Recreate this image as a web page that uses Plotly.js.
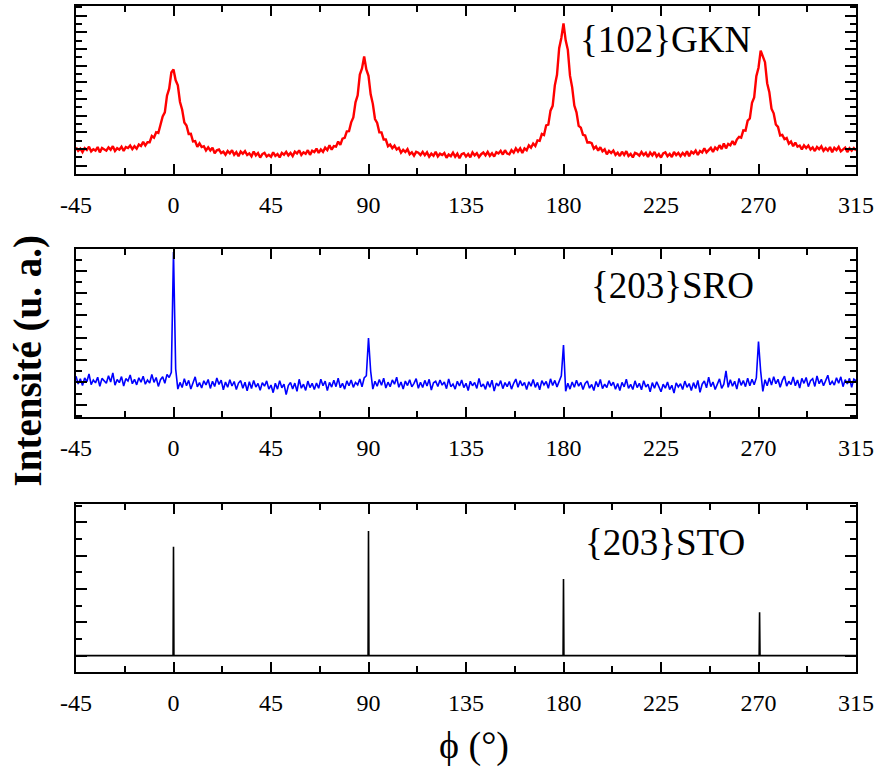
<!DOCTYPE html>
<html>
<head>
<meta charset="utf-8">
<script src="https://cdn.plot.ly/plotly-3.0.1.min.js"></script>
<style>html,body{margin:0;padding:0;background:#fff;}#chart{width:879px;height:773px;}</style>
</head>
<body>
<div id="chart"></div>
<script>
// phi scan: first angle and step (degrees)
const phiStart = -45;
const phiStep = 1;
const phiTicks = [-45, 0, 45, 90, 135, 180, 225, 270, 315];
const phiTickText = ['-45', '0', '45', '90', '135', '180', '225', '270', '315'];

// {102} GKN intensity, phi = -45 .. 315 step 1
const gkn = [
109,89,102,81,105,94,114,86,99,91,
112,80,106,99,90,110,96,117,88,105,
96,114,89,112,106,121,100,117,102,127,
118,143,121,141,141,178,168,201,196,246,
295,320,420,462,559,577,512,482,382,336,
259,241,191,192,146,148,113,134,112,117,
92,110,91,108,74,92,97,76,84,66,
88,74,93,65,81,57,85,72,87,64,
74,56,85,62,76,49,70,77,55,65,
53,80,59,70,50,77,66,83,62,77,
58,84,73,92,64,80,71,93,65,90,
82,103,77,97,83,108,94,122,96,117,
114,145,125,162,167,206,207,260,289,380,
422,547,584,656,577,539,428,371,280,257,
200,200,157,157,117,127,105,120,97,107,
78,95,82,99,69,80,60,83,78,64,
83,63,80,54,72,59,84,55,72,64,
76,48,67,57,78,54,72,45,69,75,
55,70,51,80,62,75,52,69,79,62,
83,59,75,55,81,73,89,67,93,73,
68,93,78,104,85,104,77,104,93,122,
108,133,118,152,149,190,184,242,246,330,
359,482,545,705,766,854,752,695,540,470,
361,320,239,228,185,181,140,141,135,102,
115,90,111,86,98,68,89,76,91,65,
78,58,84,64,87,58,71,50,77,71,
60,82,64,77,52,79,62,82,55,70,
49,74,80,57,71,52,82,63,77,57,
76,62,86,57,84,73,91,64,88,79,
105,80,96,107,83,109,97,123,99,133,
104,130,122,148,125,157,173,168,212,210,
270,283,377,410,537,588,690,652,621,495,
441,342,314,247,233,181,185,159,166,132,
145,117,139,114,121,98,122,106,121,97,
110,88,112,99,116,89,105,91,112,81,
107,94,113,86,100,108,82,104,90,106,
91
];

// {203} SRO intensity, phi = -45 .. 315 step 1
const sro = [
128,93,116,86,120,103,138,90,111,98,
123,83,118,108,96,130,102,143,88,113,
99,126,84,117,106,133,94,114,89,121,
101,128,92,111,97,136,100,122,82,112,
125,96,136,122,145,685,160,70,100,77,
117,85,109,70,103,125,80,99,75,107,
89,113,73,105,82,120,91,110,67,102,
78,112,84,104,68,97,108,74,101,62,
103,73,109,79,95,65,99,83,107,70,
88,54,96,70,108,76,92,45,86,100,
70,97,60,114,74,92,64,106,77,96,
68,97,74,114,85,106,63,100,79,110,
81,119,76,96,70,107,85,111,78,100,
89,115,80,120,130,299,150,70,105,83,
113,87,119,75,101,81,111,92,123,78,
102,70,106,86,112,80,96,117,74,101,
77,109,84,114,66,98,105,82,111,88,
102,72,116,81,93,70,105,84,111,77,
96,64,105,85,100,73,118,80,93,69,
104,78,110,61,97,84,108,72,99,81,
104,70,96,115,78,108,85,100,68,103,
83,113,78,100,67,108,89,104,74,116,
86,109,80,110,130,268,60,96,70,102,
78,110,83,100,68,95,106,74,91,64,
104,80,113,72,92,77,108,85,101,69,
95,64,100,80,114,73,91,68,107,77,
96,67,108,79,92,58,99,74,103,81,
58,92,74,102,68,87,52,98,80,94,
68,106,78,95,64,99,73,109,56,92,
106,76,123,81,102,68,97,116,73,92,
152,78,112,83,105,70,118,87,108,81,
119,85,114,90,120,283,150,60,112,85,
120,88,126,94,114,78,109,128,83,105,
90,124,85,111,75,118,96,122,81,108,
117,82,129,94,114,85,108,132,89,105,
88,121,96,125,81,112,93,118,78,115,
107
];

// {203} STO substrate: sharp reflections on a flat zero background
const stoPhi = [-45, -0.2, 0, 0.2, 89.8, 90, 90.2, 179.8, 180, 180.2, 270.3, 270.5, 270.7, 315];
const sto    = [0,   0,   327, 0,   0,   374, 0,   0,    230, 0,    0,     130,   0,     0];

const labels = ['{102}GKN', '{203}SRO', '{203}STO'];
const yTitle = 'Intensité (u. a.)';
const xTitle = 'ϕ (°)';

const FONT = 'Liberation Serif';

const traces = [
  {x0: phiStart, dx: phiStep, y: gkn, type: 'scatter', mode: 'lines', xaxis: 'x', yaxis: 'y',
   line: {color: '#ff0000', width: 2.4}},
  {x0: phiStart, dx: phiStep, y: sro, type: 'scatter', mode: 'lines', xaxis: 'x2', yaxis: 'y2',
   line: {color: '#0000ff', width: 1.6}},
  {x: stoPhi, y: sto, type: 'scatter', mode: 'lines', xaxis: 'x3', yaxis: 'y3',
   line: {color: '#000000', width: 1.6}}
];

function xax(anchor) {
  return {
    anchor: anchor, range: [-45, 315], tickmode: 'array', tickvals: phiTicks, ticktext: phiTickText,
    ticks: 'inside', ticklen: 10, tickwidth: 2, tickcolor: '#000',
    showline: true, linecolor: '#000', linewidth: 2, mirror: 'ticks',
    showgrid: false, zeroline: false, fixedrange: true,
    tickfont: {family: FONT, size: 24, color: '#000'}, ticklabelstandoff: 8,
    minor: {dtick: 22.5, tick0: -45, ticks: 'inside', ticklen: 6, tickwidth: 2, tickcolor: '#000', showgrid: false}
  };
}
function yax(anchor, domain, range) {
  return {
    anchor: anchor, domain: domain, range: range, tick0: 0, dtick: 100,
    ticks: 'inside', ticklen: 11, tickwidth: 2, tickcolor: '#000',
    showline: true, linecolor: '#000', linewidth: 2, mirror: 'ticks',
    showgrid: false, zeroline: false, showticklabels: false, fixedrange: true,
    minor: {dtick: 50, tick0: 0, ticks: 'inside', ticklen: 6, tickwidth: 2, tickcolor: '#000', showgrid: false}
  };
}

const layout = {
  width: 879, height: 773,
  margin: {l: 76, r: 23, t: 6, b: 101},
  paper_bgcolor: '#fff', plot_bgcolor: '#fff',
  showlegend: false,
  font: {family: FONT, color: '#000'},
  xaxis: xax('y'),
  yaxis: yax('x', [0.7477, 1], [-50, 958]),
  xaxis2: xax('y2'),
  yaxis2: yax('x2', [0.3829, 0.6351], [-55, 698]),
  xaxis3: xax('y3'),
  yaxis3: yax('x3', [0, 0.2523], [-49, 455]),
  annotations: [
    {text: labels[0], xref: 'paper', yref: 'paper', x: 0.756, y: 0.949, xanchor: 'center', yanchor: 'middle',
     showarrow: false, font: {family: FONT, size: 37, color: '#000'}},
    {text: labels[1], xref: 'paper', yref: 'paper', x: 0.765, y: 0.581, xanchor: 'center', yanchor: 'middle',
     showarrow: false, font: {family: FONT, size: 37, color: '#000'}},
    {text: labels[2], xref: 'paper', yref: 'paper', x: 0.755, y: 0.195, xanchor: 'center', yanchor: 'middle',
     showarrow: false, font: {family: FONT, size: 37, color: '#000'}},
    {text: '<b>' + yTitle + '</b>', xref: 'paper', yref: 'paper', x: -0.0622, y: 0.467, xanchor: 'center', yanchor: 'middle',
     textangle: -90, showarrow: false, font: {family: FONT, size: 39, color: '#000'}},
    {text: xTitle, xref: 'paper', yref: 'paper', x: 0.51, y: -0.111, xanchor: 'center', yanchor: 'middle',
     showarrow: false, font: {family: FONT, size: 38, color: '#000'}}
  ]
};

Plotly.newPlot('chart', traces, layout, {staticPlot: true, displayModeBar: false});
</script>
</body>
</html>
